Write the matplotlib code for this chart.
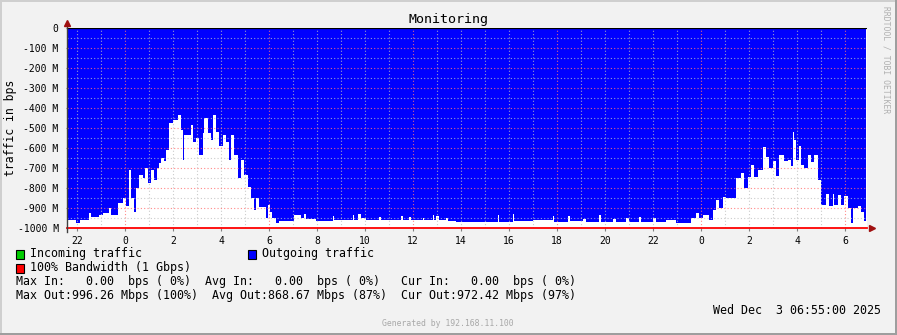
import matplotlib
matplotlib.use('Agg')
import matplotlib.pyplot as plt
from matplotlib.patches import Rectangle
from matplotlib.lines import Line2D
import numpy as np

# Outgoing traffic
# hours counted from Dec 1 00:00, values in Mbps
hours = [
    21.58, 21.96, 22.13, 22.49, 22.58, 22.93, 23.07, 23.35, 23.42, 23.69,
    23.90, 24.04, 24.18, 24.25, 24.39, 24.46, 24.60, 24.74, 24.85, 24.94,
    25.08, 25.22, 25.32, 25.43, 25.50, 25.64, 25.71, 25.85, 25.99, 26.20,
    26.33, 26.40, 26.47, 26.75, 26.82, 26.96, 27.10, 27.24, 27.31, 27.45,
    27.58, 27.65, 27.79, 27.93, 28.07, 28.21, 28.35, 28.42, 28.56, 28.70,
    28.83, 28.97, 29.11, 29.25, 29.39, 29.46, 29.60, 29.875, 29.94, 30.04,
    30.125, 30.29, 30.43, 31.06, 31.33, 31.47, 31.54, 31.96, 32.65, 32.72,
    33.49, 33.56, 33.69, 33.83, 34.04, 34.60, 34.67, 35.50, 35.57, 35.85,
    35.92, 36.40, 36.47, 36.82, 36.89, 36.96, 37.10, 37.375, 37.44, 37.79,
    38.21, 39.53, 39.60, 40.15, 40.22, 40.99, 41.82, 41.89, 42.44, 42.54,
    43.07, 43.21, 43.76, 43.83, 44.32, 44.46, 44.87, 45.01, 45.43, 45.50,
    45.99, 46.13, 46.54, 46.96, 47.58, 47.79, 47.93, 48.07, 48.35, 48.49,
    48.63, 48.76, 48.90, 49.04, 49.46, 49.67, 49.81, 49.94, 50.08, 50.22,
    50.36, 50.57, 50.71, 50.85, 50.99, 51.13, 51.26, 51.47, 51.61, 51.75,
    51.82, 51.89, 51.96, 52.10, 52.17, 52.31, 52.45, 52.58, 52.72, 52.86,
    53.00, 53.21, 53.35, 53.49, 53.56, 53.70, 53.83, 53.97, 54.11, 54.25,
    54.32, 54.53, 54.67, 54.81, 54.875,
]
out_mbps = [
    960, 975, 960, 925, 945, 935, 925, 900, 935, 875,
    850, 890, 710, 850, 920, 800, 735, 750, 700, 775,
    710, 760, 700, 675, 650, 665, 610, 477, 460, 435,
    510, 660, 535, 485, 570, 550, 635, 525, 450, 525,
    560, 435, 520, 590, 535, 570, 660, 535, 635, 750,
    660, 735, 795, 850, 910, 850, 895, 950, 885, 920,
    950, 975, 965, 935, 950, 930, 955, 965, 940, 960,
    935, 960, 930, 950, 960, 945, 960, 940, 960, 945,
    960, 950, 960, 935, 960, 940, 960, 950, 965, 970,
    968, 935, 968, 930, 965, 960, 940, 968, 940, 965,
    955, 970, 935, 968, 955, 970, 950, 968, 945, 968,
    950, 970, 960, 973, 950, 925, 950, 935, 960, 910,
    860, 900, 845, 850, 750, 725, 800, 745, 685, 745,
    710, 595, 645, 700, 665, 740, 635, 665, 660, 690,
    520, 560, 660, 590, 685, 700, 635, 670, 635, 760,
    885, 830, 890, 830, 885, 835, 885, 840, 900, 975,
    900, 890, 920, 965, 965,
]
y_ticks = [0, -100, -200, -300, -400, -500, -600, -700, -800, -900, -1000]
x_ticks = list(range(22, 55, 2))
bandwidth = 1000  # 1 Gbps line

W, H = 897, 335


def fx(x):
    return x / W


def fy(y):
    return 1 - y / H


plt.rcParams['font.family'] = 'DejaVu Sans Mono'

fig = plt.figure(figsize=(W / 100, H / 100), dpi=100, facecolor='#f2f2f2')
ax = fig.add_axes([fx(67), fy(228), 800 / W, 200 / H])
ax.set_facecolor('white')

ax.fill_between(hours, 0, -np.array(out_mbps), step='post',
                color='#0000ff', lw=0, zorder=1)

ax.set_xlim(21.583, 54.917)
ax.set_ylim(-1000, 0)

# grid: minor every hour / 50M, major every 6 hours / 100M
minor_c = (0.75, 0.75, 0.75, 0.8)
major_c = (1.0, 0.45, 0.45, 0.85)
for h in range(22, 55):
    ax.axvline(h, color=major_c if h % 6 == 0 else minor_c,
               lw=0.8, ls=(0, (1, 2)), zorder=3)
for v in range(-950, 0, 50):
    ax.axhline(v, color=major_c if v % 100 == 0 else minor_c,
               lw=0.8, ls=(0, (1, 2)), zorder=3)

ax.axhline(0, color='black', lw=1.6, zorder=4)
ax.axhline(-bandwidth, color='#ff0000', lw=1.3, zorder=5, clip_on=False)

for s in ['top', 'right', 'bottom']:
    ax.spines[s].set_visible(False)
ax.spines['left'].set_visible(False)

# axis lines with rrdtool style arrows
ax.add_line(Line2D([0, 0], [-0.02, 1.03], transform=ax.transAxes,
                   color='#404040', lw=1, clip_on=False, zorder=6))
ax.plot([0], [1.027], marker='^', ms=4.5, color='#a01010',
        transform=ax.transAxes, clip_on=False, zorder=7)
ax.plot([1.006], [0], marker='>', ms=4.5, color='#a01010',
        transform=ax.transAxes, clip_on=False, zorder=7)

ax.set_yticks(y_ticks)
ax.set_yticklabels(['0' if v == 0 else '%d M' % v for v in y_ticks])
ax.set_xticks(x_ticks)
ax.set_xticklabels([str(h % 24) for h in x_ticks])
ax.tick_params(axis='y', length=2, direction='inout', color='#808080',
               labelsize=7, pad=5)
ax.tick_params(axis='x', length=2, direction='out', color='#808080',
               labelsize=7, pad=4)

fig.text(fx(448), fy(19), 'Monitoring', ha='center', va='center', fontsize=9.6)
fig.text(fx(11), fy(128), 'traffic in bps', ha='center', va='center',
         rotation=90, fontsize=8.3)
fig.text(fx(886), fy(60), 'RRDTOOL / TOBI OETIKER', ha='center', va='center',
         rotation=270, fontsize=5.8, color='#b0b0b0')

# legend
legend = [
    (16, 254, '#00cc00', 'Incoming traffic'),
    (248, 254, '#0000ff', 'Outgoing traffic'),
    (16, 268, '#ff0000', '100% Bandwidth (1 Gbps)'),
]
for x, y, c, label in legend:
    fig.patches.append(Rectangle((fx(x), fy(y + 4.5)), 8 / W, 9 / H,
                                 transform=fig.transFigure, facecolor=c,
                                 edgecolor='black', lw=0.8))
    fig.text(fx(x + 14), fy(y), label, va='center', fontsize=8.4)

fig.text(fx(16), fy(282),
         'Max In:   0.00  bps ( 0%)  Avg In:   0.00  bps ( 0%)   Cur In:   0.00  bps ( 0%)',
         va='center', fontsize=8.4)
fig.text(fx(16), fy(296),
         'Max Out:996.26 Mbps (100%)  Avg Out:868.67 Mbps (87%)  Cur Out:972.42 Mbps (97%)',
         va='center', fontsize=8.4)
fig.text(fx(881), fy(310), 'Wed Dec  3 06:55:00 2025', ha='right',
         va='center', fontsize=8.4)
fig.text(fx(448), fy(324), 'Generated by 192.168.11.100', ha='center',
         va='center', fontsize=5.9, color='#a8a8a8')

# shaded frame
frame = [
    (0, H - 2, W, 2, '#cfcfcf'),
    (0, 0, 2, H, '#cfcfcf'),
    (0, 0, W, 2, '#9e9e9e'),
    (W - 2, 0, 2, H, '#9e9e9e'),
]
for x, y, w, h, c in frame:
    fig.patches.append(Rectangle((x / W, y / H), w / W, h / H,
                                 transform=fig.transFigure, facecolor=c, lw=0))

fig.savefig('out.png', dpi=100, facecolor=fig.get_facecolor())
